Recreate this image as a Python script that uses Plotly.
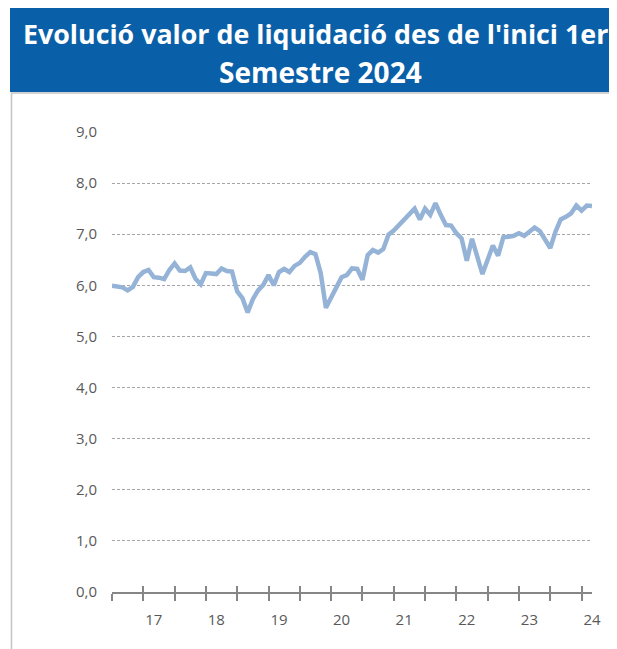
import plotly.graph_objects as go

months = list(range(93))
values = [5.99, 5.98, 5.96, 5.90, 5.97, 6.16, 6.26, 6.30, 6.16, 6.15,
          6.12, 6.30, 6.43, 6.29, 6.28, 6.35, 6.13, 6.02, 6.24, 6.23,
          6.22, 6.33, 6.28, 6.27, 5.88, 5.75, 5.47, 5.73, 5.90, 6.01,
          6.20, 6.00, 6.26, 6.32, 6.26, 6.38, 6.44, 6.56, 6.65, 6.61,
          6.24, 5.56, 5.78, 5.96, 6.16, 6.20, 6.33, 6.32, 6.11, 6.59,
          6.69, 6.64, 6.71, 6.99, 7.07, 7.18, 7.26, 7.38, 7.50, 7.29,
          7.50, 7.38, 7.61, 7.38, 7.18, 7.17, 7.02, 6.92, 6.48, 6.91,
          6.56, 6.22, 6.50, 6.78, 6.58, 6.94, 6.95, 6.97, 7.02, 6.97,
          7.05, 7.13, 7.06, 6.90, 6.73, 7.05, 7.29, 7.34, 7.41, 7.56,
          7.46, 7.56, 7.55]
year_ticks = [8, 20, 32, 44, 56, 68, 80, 92]
year_labels = ["17", "18", "19", "20", "21", "22", "23", "24"]
y_ticks = [0, 1, 2, 3, 4, 5, 6, 7, 8, 9]

title_line1 = "Evolució valor de liquidació des de l'inici 1er"
title_line2 = "Semestre 2024"

# the page body adds an 8px margin, so the figure is offset by 8px
OFF = 8
W, H = 617 - OFF, 649 - OFF
L, R, T, B = 112 - OFF, 592 - OFF, 132 - OFF, 592 - OFF
pw, ph = R - L, B - T

def px(x):  # screen x -> paper
    return (x - OFF - L) / pw

def py(y):  # screen y -> paper
    return (B - (y - OFF)) / ph

fig = go.Figure()
fig.add_trace(go.Scatter(x=months, y=values, mode="lines",
                         line=dict(color="#95B3D7", width=4.5),
                         cliponaxis=False, hoverinfo="skip"))
# invisible trace for the overlay axis carrying the upper half of cross ticks
fig.add_trace(go.Scatter(x=[months[0], months[-1]], y=[0, 0], xaxis="x2",
                         mode="lines", line=dict(width=0), hoverinfo="skip",
                         showlegend=False))

tickfont = dict(family="Open Sans", size=15, color="#595959")

fig.update_layout(
    width=W, height=H,
    margin=dict(l=L, r=W - R, t=T, b=H - B),
    paper_bgcolor="white", plot_bgcolor="white",
    showlegend=False,
    separators=",.",
    xaxis=dict(range=[0, 92], showgrid=False, zeroline=False,
               showline=True, linecolor="#868686", linewidth=1.5,
               tickmode="array", tickvals=year_ticks, ticktext=year_labels,
               ticks="", tickfont=tickfont, ticklabelstandoff=13,
               minor=dict(ticks="outside", tick0=0, dtick=6, ticklen=7,
                          tickcolor="#868686", tickwidth=1.5, showgrid=False)),
    xaxis2=dict(range=[0, 92], overlaying="x", anchor="y", side="bottom",
                showgrid=False, zeroline=False, showline=False,
                tickmode="linear", tick0=0, dtick=6, ticks="inside",
                ticklen=6, tickcolor="#868686", tickwidth=1.5,
                showticklabels=False),
    yaxis=dict(range=[0, 9], tickvals=y_ticks, tickformat=".1f",
               showgrid=True, gridcolor="#A6A6A6", gridwidth=1,
               griddash="3px,2px", zeroline=False, showline=False,
               ticks="", tickfont=tickfont, ticklabelstandoff=14),
    shapes=[
        dict(type="rect", xref="paper", yref="paper",
             x0=px(11.5), x1=px(640), y0=py(680), y1=py(93),
             line=dict(color="#C4C4C4", width=1.5), fillcolor="rgba(0,0,0,0)",
             layer="below"),
        dict(type="rect", xref="paper", yref="paper",
             x0=px(10), x1=px(640), y0=py(92), y1=py(8),
             line=dict(width=0), fillcolor="#0A60A8", layer="below"),
    ],
    annotations=[
        dict(text=title_line1, xref="paper", yref="paper",
             x=px(21), y=py(34), xanchor="left", yanchor="middle",
             showarrow=False,
             font=dict(family="Open Sans", size=26.8, color="white", weight="bold")),
        dict(text=title_line2, xref="paper", yref="paper",
             x=px(320.5), y=py(72), xanchor="center", yanchor="middle",
             showarrow=False,
             font=dict(family="Open Sans", size=28, color="white", weight="bold")),
    ],
)

fig.write_html("out.html")
